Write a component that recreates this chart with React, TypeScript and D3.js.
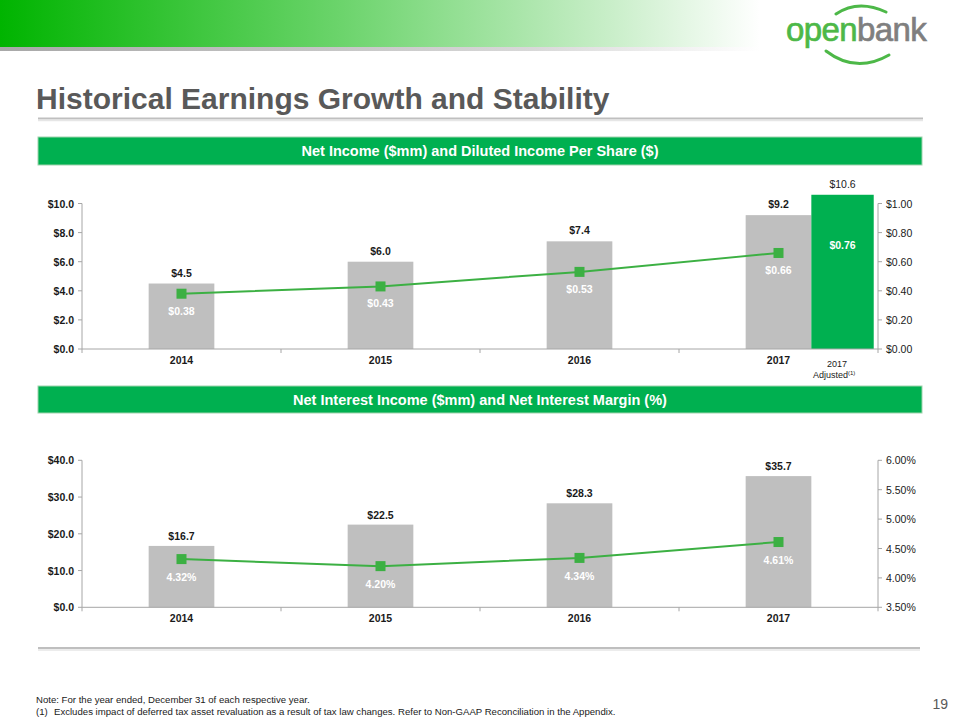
import React from "react";
import * as d3 from "d3";

const years = ["2014", "2015", "2016", "2017"];
const netIncome = [4.5, 6.0, 7.4, 9.2];
const eps = [0.38, 0.43, 0.53, 0.66];
const adjustedYear = "2017";
const adjustedNetIncome = 10.6;
const adjustedEps = 0.76;
const netInterestIncome = [16.7, 22.5, 28.3, 35.7];
const netInterestMargin = [4.32, 4.2, 4.34, 4.61];

const topLeftTicks = [0, 2, 4, 6, 8, 10];
const topRightTicks = [0, 0.2, 0.4, 0.6, 0.8, 1.0];
const botLeftTicks = [0, 10, 20, 30, 40];
const botRightTicks = [3.5, 4.0, 4.5, 5.0, 5.5, 6.0];

const FONT = "'Liberation Sans', Arial, Helvetica, sans-serif";
const NARROW = "'Liberation Sans Narrow', 'Arial Narrow', 'Liberation Sans', Arial, sans-serif";
const GRAY_BAR = "#BFBFBF";
const GREEN = "#00B050";
const LINE_GREEN = "#3CB043";
const AXIS = "#A6A6A6";
const TXT = "#1a1a1a";

const X0 = 82;
const X1 = 878;

function Axes({ x, yL, yR, leftTicks, rightTicks, fmtL, fmtR, boldLeft }: any) {
  const [yBottom, yTop] = yL.range();
  const bounds = [X0, ...years.map((y: string) => x(y) + x.bandwidth())];
  return (
    <g>
      <line x1={X0} x2={X0} y1={yTop} y2={yBottom} stroke={AXIS} />
      <line x1={X1} x2={X1} y1={yR.range()[1]} y2={yR.range()[0]} stroke={AXIS} />
      <line x1={X0} x2={X1} y1={yBottom} y2={yBottom} stroke={AXIS} />
      {bounds.map((b: number, i: number) => (
        <line key={"xb" + i} x1={b} x2={b} y1={yBottom} y2={yBottom + 4} stroke={AXIS} />
      ))}
      {leftTicks.map((t: number) => (
        <g key={"l" + t}>
          <line x1={X0 - 4} x2={X0} y1={yL(t)} y2={yL(t)} stroke={AXIS} />
          <text x={X0 - 8} y={yL(t) + 4} textAnchor="end" fontSize={10.5} fontWeight={boldLeft ? 700 : 400} fill={TXT}>
            {fmtL(t)}
          </text>
        </g>
      ))}
      {rightTicks.map((t: number) => (
        <g key={"r" + t}>
          <line x1={X1} x2={X1 + 4} y1={yR(t)} y2={yR(t)} stroke={AXIS} />
          <text x={X1 + 8} y={yR(t) + 4} textAnchor="start" fontSize={10.5} fill={TXT}>
            {fmtR(t)}
          </text>
        </g>
      ))}
      {years.map((yr: string) => (
        <text key={"yr" + yr} x={x(yr) + x.bandwidth() / 2} y={yBottom + 15} textAnchor="middle" fontSize={10.5} fontWeight={700} fill={TXT}>
          {yr}
        </text>
      ))}
    </g>
  );
}

function Header({ y, h, label }: any) {
  return (
    <g>
      <rect x={38} y={y} width={884} height={h} fill={GREEN} stroke="#9fd3ad" strokeWidth={1} />
      <text x={480} y={y + h / 2 + 5} textAnchor="middle" fontSize={14.5} fontWeight={700} fill="#fff">
        {label}
      </text>
    </g>
  );
}

export default function App() {
  const x = d3.scaleBand<string>().domain(years).range([X0, X1]).padding(0);
  const bw = x.bandwidth() * 0.33;
  const cx = (yr: string) => (x(yr) as number) + x.bandwidth() / 2;

  // Top chart
  const yT = d3.scaleLinear().domain([0, 10]).range([349, 203.5]);
  const yTR = d3.scaleLinear().domain([0, 1]).range([349, 203.5]);
  const epsLine = d3
    .line<number>()
    .x((_, i) => cx(years[i]))
    .y((d) => yTR(d));

  // Bottom chart
  const yB = d3.scaleLinear().domain([0, 40]).range([607.3, 460.3]);
  const yBR = d3.scaleLinear().domain([3.5, 6.0]).range([607.3, 460.3]);
  const nimLine = d3
    .line<number>()
    .x((_, i) => cx(years[i]))
    .y((d) => yBR(d));

  const fmt1 = d3.format(".1f");
  const fmt2 = d3.format(".2f");
  const adjX = cx(adjustedYear) + bw / 2;
  const adjW = bw * 0.95;

  return (
    <svg width={960} height={720} style={{ position: "absolute", left: 0, top: 0, background: "#fff" }} fontFamily={FONT}>
      <defs>
        <linearGradient id="banner" x1="0" x2="1" y1="0" y2="0">
          <stop offset="0" stopColor="#00B400" />
          <stop offset="0.45" stopColor="#6CD46C" />
          <stop offset="0.8" stopColor="#C8EEC8" />
          <stop offset="1" stopColor="#ffffff" />
        </linearGradient>
        <linearGradient id="bannerShadow" x1="0" x2="1" y1="0" y2="0">
          <stop offset="0" stopColor="#A8A8A8" />
          <stop offset="0.7" stopColor="#D8D8D8" />
          <stop offset="1" stopColor="#ffffff" />
        </linearGradient>
      </defs>

      {/* Banner */}
      <rect x={0} y={0} width={760} height={47} fill="url(#banner)" />
      <rect x={0} y={47} width={760} height={4} fill="url(#bannerShadow)" />

      {/* Logo */}
      <path d="M836,14 Q858,-1 886,12" fill="none" stroke="#4DB848" strokeWidth={3} strokeLinecap="round" />
      <path d="M826,51 Q856,74 889,55" fill="none" stroke="#4DB848" strokeWidth={3} strokeLinecap="round" />
      <text x={786} y={41} fontSize={33} letterSpacing={-0.6} strokeWidth={0.7}>
        <tspan fill="#4DB848" stroke="#4DB848">open</tspan>
        <tspan fill="#7F7F7F" stroke="#7F7F7F">bank</tspan>
      </text>

      {/* Title */}
      <text x={36} y={109} fontSize={30} fontWeight={700} fill="#595959">
        Historical Earnings Growth and Stability
      </text>
      <line x1={38} x2={923} y1={118.5} y2={118.5} stroke="#BFBFBF" strokeWidth={2} />
      <line x1={38} x2={923} y1={120.5} y2={120.5} stroke="#E6E6E6" strokeWidth={1.5} />

      {/* Top chart */}
      <Header y={137} h={28} label="Net Income ($mm) and Diluted Income Per Share ($)" />
      {years.map((yr, i) => (
        <rect key={"tb" + yr} x={cx(yr) - bw / 2} y={yT(netIncome[i])} width={bw} height={yT(0) - yT(netIncome[i])} fill={GRAY_BAR} />
      ))}
      <rect x={adjX} y={yT(adjustedNetIncome)} width={adjW} height={yT(0) - yT(adjustedNetIncome)} fill={GREEN} />
      <Axes x={x} yL={yT} yR={yTR} leftTicks={topLeftTicks} rightTicks={topRightTicks} fmtL={(t: number) => "$" + fmt1(t)} fmtR={(t: number) => "$" + fmt2(t)} boldLeft />
      {years.map((yr, i) => (
        <text key={"tv" + yr} x={cx(yr)} y={yT(netIncome[i]) - 7} textAnchor="middle" fontSize={10.5} fontWeight={700} fill={TXT}>
          {"$" + fmt1(netIncome[i])}
        </text>
      ))}
      <text x={adjX + adjW / 2} y={yT(adjustedNetIncome) - 7} textAnchor="middle" fontSize={10.5} fill={TXT}>
        {"$" + fmt1(adjustedNetIncome)}
      </text>
      <path d={epsLine(eps) as string} fill="none" stroke={LINE_GREEN} strokeWidth={2} />
      {years.map((yr, i) => (
        <g key={"te" + yr}>
          <rect x={cx(yr) - 5} y={yTR(eps[i]) - 5} width={10} height={10} fill={LINE_GREEN} />
          <text x={cx(yr)} y={yTR(eps[i]) + 21} textAnchor="middle" fontSize={10.5} fontWeight={700} fill="#fff">
            {"$" + fmt2(eps[i])}
          </text>
        </g>
      ))}
      <text x={adjX + adjW / 2} y={yTR(adjustedEps) + 11} textAnchor="middle" fontSize={10.5} fontWeight={700} fill="#fff">
        {"$" + fmt2(adjustedEps)}
      </text>
      <text x={837} y={366.5} textAnchor="middle" fontSize={9} fill={TXT}>
        {adjustedYear}
      </text>
      <text x={813} y={378} textAnchor="start" fontSize={9} fill={TXT}>
        Adjusted<tspan fontSize={6} dy={-3}>(1)</tspan>
      </text>

      {/* Bottom chart */}
      <Header y={386} h={27} label="Net Interest Income ($mm) and Net Interest Margin (%)" />
      {years.map((yr, i) => (
        <rect key={"bb" + yr} x={cx(yr) - bw / 2} y={yB(netInterestIncome[i])} width={bw} height={yB(0) - yB(netInterestIncome[i])} fill={GRAY_BAR} />
      ))}
      <Axes x={x} yL={yB} yR={yBR} leftTicks={botLeftTicks} rightTicks={botRightTicks} fmtL={(t: number) => "$" + fmt1(t)} fmtR={(t: number) => fmt2(t) + "%"} boldLeft />
      {years.map((yr, i) => (
        <text key={"bv" + yr} x={cx(yr)} y={yB(netInterestIncome[i]) - 6} textAnchor="middle" fontSize={10.5} fontWeight={700} fill={TXT}>
          {"$" + fmt1(netInterestIncome[i])}
        </text>
      ))}
      <path d={nimLine(netInterestMargin) as string} fill="none" stroke={LINE_GREEN} strokeWidth={2} />
      {years.map((yr, i) => (
        <g key={"bn" + yr}>
          <rect x={cx(yr) - 5} y={yBR(netInterestMargin[i]) - 5} width={10} height={10} fill={LINE_GREEN} />
          <text x={cx(yr)} y={yBR(netInterestMargin[i]) + 22} textAnchor="middle" fontSize={10.5} fontWeight={700} fill="#fff">
            {fmt2(netInterestMargin[i]) + "%"}
          </text>
        </g>
      ))}

      {/* Bottom separator */}
      <line x1={38} x2={920} y1={648} y2={648} stroke="#BFBFBF" strokeWidth={2} />
      <line x1={38} x2={920} y1={650} y2={650} stroke="#E6E6E6" strokeWidth={1.5} />

      {/* Footnotes */}
      <text x={36} y={703} fontSize={9.6} fontFamily={NARROW} fill={TXT}>
        Note: For the year ended, December 31 of each respective year.
      </text>
      <text x={36} y={715} fontSize={9.6} fontFamily={NARROW} fill={TXT}>
        (1)
      </text>
      <text x={54} y={715} fontSize={9.6} fontFamily={NARROW} fill={TXT}>
        Excludes impact of deferred tax asset revaluation as a result of tax law changes. Refer to Non-GAAP Reconciliation in the Appendix.
      </text>
      <text x={948} y={709} textAnchor="end" fontSize={14} fill="#595959">
        19
      </text>
    </svg>
  );
}
